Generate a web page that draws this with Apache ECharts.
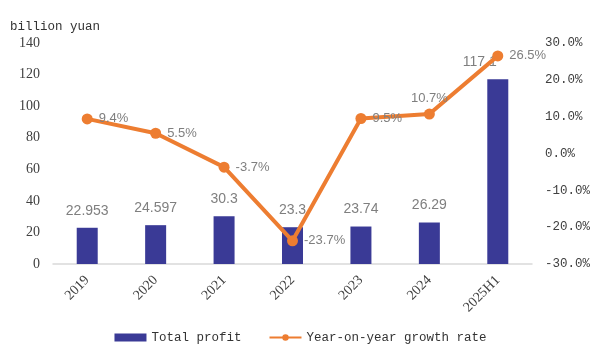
<!DOCTYPE html>
<html><head><meta charset="utf-8">
<script src="https://cdn.jsdelivr.net/npm/echarts@6/dist/echarts.min.js"></script>
<style>html,body{margin:0;padding:0;background:#fff}#c{width:601px;height:360px}</style>
</head><body><div id="c"></div>
<script>
const categories = ['2019','2020','2021','2022','2023','2024','2025H1'];
const totalProfit = [22.953, 24.597, 30.3, 23.3, 23.74, 26.29, 117.1];
const growthRate = [9.4, 5.5, -3.7, -23.7, 9.5, 10.7, 26.5];
const leftTicks = {min: 0, max: 140, interval: 20};
const rightTicks = {min: -30, max: 30, interval: 10};

const chart = echarts.init(document.getElementById('c'));
const gray = '#7f7f7f';
const mono = 'Liberation Mono';
chart.setOption({
  animation: false,
  grid: {left: 53, right: 69, top: 43, bottom: 96},
  legend: {
    bottom: 11, left: 'center', itemGap: 27, itemWidth: 32, itemHeight: 8,
    textStyle: {fontFamily: mono, fontSize: 12.5, color: '#333333'},
    data: [{name: 'Total profit', icon: 'rect'}, {name: 'Year-on-year growth rate'}]
  },
  xAxis: {
    type: 'category', data: categories,
    axisLine: {lineStyle: {color: '#d9d9d9', width: 1.5}},
    axisTick: {show: false},
    axisLabel: {rotate: 45, fontFamily: 'Liberation Serif', fontSize: 14, color: '#404040', margin: 14, interval: 0}
  },
  yAxis: [{
    type: 'value', min: leftTicks.min, max: leftTicks.max, interval: leftTicks.interval,
    name: 'billion yuan', nameLocation: 'end', nameGap: 10,
    nameTextStyle: {fontFamily: mono, fontSize: 12.5, color: '#333333', align: 'left', padding: [0, 0, 0, -43]},
    splitLine: {show: false}, axisLine: {show: false}, axisTick: {show: false},
    axisLabel: {fontFamily: 'Liberation Serif', fontSize: 14, color: '#404040', margin: 13}
  }, {
    type: 'value', min: rightTicks.min, max: rightTicks.max, interval: rightTicks.interval,
    splitLine: {show: false}, axisLine: {show: false}, axisTick: {show: false},
    axisLabel: {fontFamily: mono, fontSize: 12.5, color: '#404040', margin: 13,
      formatter: v => v.toFixed(1) + '%'}
  }],
  series: [{
    name: 'Total profit', type: 'bar', yAxisIndex: 0, barWidth: 21,
    itemStyle: {color: '#3a3a96'},
    data: totalProfit.map((v, i) => i === 6 ? {value: v, label: {offset: [-18, 0]}} : v),
    label: {show: true, position: 'top', distance: 10, fontFamily: 'Liberation Sans', fontSize: 14, color: gray}
  }, {
    name: 'Year-on-year growth rate', type: 'line', yAxisIndex: 1,
    symbol: 'circle', symbolSize: 11,
    lineStyle: {color: '#ed7d31', width: 4},
    itemStyle: {color: '#ed7d31'},
    data: growthRate.map((v, i) => i === 5 ? {value: v, label: {position: 'top', distance: 4}} : v),
    label: {show: true, position: 'right', distance: 6, fontFamily: 'Liberation Sans', fontSize: 13, color: gray,
      formatter: p => p.value + '%'}
  }]
});
</script></body></html>
